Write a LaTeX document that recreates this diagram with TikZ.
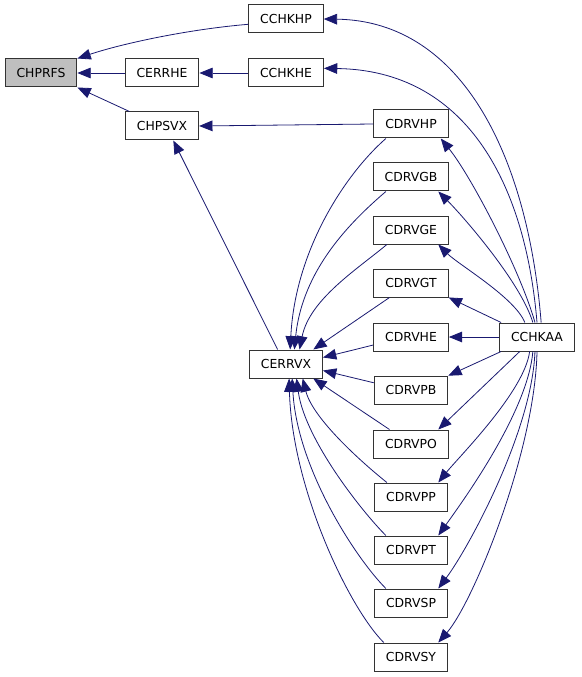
\documentclass[tikz,border=0pt]{standalone}
\usepackage{fontspec}
\setmainfont{DejaVu Sans}
\usepackage{tikz}
\usetikzlibrary{arrows.meta}
\definecolor{edgeblue}{RGB}{25,25,112}
\tikzset{fn/.style={draw=black!80,line width=0.75pt,fill=white,minimum height=21pt,
    inner xsep=8.6pt,inner ysep=0pt,font=\fontsize{9.3}{11}\selectfont},
  call/.style={draw=edgeblue,line width=0.6pt,-{Triangle[length=10pt,width=8pt]}}}

\begin{document}
\begin{tikzpicture}[x=0.75pt,y=-0.75pt]
\useasboundingbox (0,0) rectangle (581,677);
\node[fn,fill=black!25] (chprfs) at (41,73) {CHPRFS};
\node[fn] (cerrhe) at (162,73) {CERRHE};
\node[fn] (chpsvx) at (162,126) {CHPSVX};
\node[fn] (cchkhp) at (286,19) {CCHKHP};
\node[fn] (cchkhe) at (286,73) {CCHKHE};
\node[fn] (cerrvx) at (286,364) {CERRVX};
\node[fn] (cdrvhp) at (411,124) {CDRVHP};
\node[fn] (cdrvgb) at (411,177) {CDRVGB};
\node[fn] (cdrvge) at (411,230) {CDRVGE};
\node[fn] (cdrvgt) at (411,283) {CDRVGT};
\node[fn] (cdrvhe) at (411,337) {CDRVHE};
\node[fn] (cdrvpb) at (411,390) {CDRVPB};
\node[fn] (cdrvpo) at (411,444) {CDRVPO};
\node[fn] (cdrvpp) at (411,497) {CDRVPP};
\node[fn] (cdrvpt) at (411,550) {CDRVPT};
\node[fn] (cdrvsp) at (411,603) {CDRVSP};
\node[fn] (cdrvsy) at (411,657) {CDRVSY};
\node[fn] (cchkaa) at (537,337) {CCHKAA};
% first column
\draw[call] (cchkhp.188) .. controls +(-60,5) and +(45,-15) .. (chprfs.north east);
\draw[call] (cerrhe.west) -- (chprfs.east);
\draw[call] (chpsvx.156) -- (chprfs.south east);
\draw[call] (cchkhe.west) -- (cerrhe.east);
\draw[call] (cdrvhp.west) -- (chpsvx.east);
\draw[call] (cerrvx.120) -- (chpsvx.308);
% from cchkaa
\draw[call] (cchkaa.74) .. controls +(-13,-163) and +(140,2) .. (cchkhp.east);
\draw[call] (cchkaa.90) .. controls +(-12,-143) and +(140,2) .. (cchkhe.7);
\draw[call] (cchkaa.98) .. controls +(-15,-53) and +(30,37) .. (cdrvhp.334);
\draw[call] (cchkaa.106) .. controls +(-12,-40) and +(25,25) .. (cdrvgb.332);
\draw[call] (cchkaa.130) .. controls +(-10,-25) and +(20,20) .. (cdrvge.332);
\draw[call] (cchkaa.158) -- (cdrvgt.339);
\draw[call] (cchkaa.west) -- (cdrvhe.east);
\draw[call] (cchkaa.202) -- (cdrvpb.21);
\draw[call] (cchkaa.220) -- (cdrvpo.28);
\draw[call] (cchkaa.243) .. controls +(-5,40) and +(20,-25) .. (cdrvpp.28);
\draw[call] (cchkaa.254) .. controls +(-5,60) and +(25,-35) .. (cdrvpt.28);
\draw[call] (cchkaa.262) .. controls +(-3,80) and +(30,-40) .. (cdrvsp.28);
\draw[call] (cchkaa.270) .. controls +(-2,100) and +(35,-40) .. (cdrvsy.28);
% into cerrvx
\draw[call] (cdrvhp.210) .. controls +(-40,35) and +(5,-100) .. (cerrvx.74);
\draw[call] (cdrvgb.210) .. controls +(-35,30) and +(8,-80) .. (cerrvx.60);
\draw[call] (cdrvge.211) .. controls +(-30,25) and +(10,-50) .. (cerrvx.47);
\draw[call] (cdrvgt.214) -- (cerrvx.28);
\draw[call] (cdrvhe.192) -- (cerrvx.10);
\draw[call] (cdrvpb.169) -- (cerrvx.-10);
\draw[call] (cdrvpo.146) -- (cerrvx.-28);
\draw[call] (cdrvpp.149) .. controls +(-25,-20) and +(10,40) .. (cerrvx.-41);
\draw[call] (cdrvpt.150) .. controls +(-25,-25) and +(8,60) .. (cerrvx.-54);
\draw[call] (cdrvsp.150) .. controls +(-30,-30) and +(5,90) .. (cerrvx.-67);
\draw[call] (cdrvsy.152) .. controls +(-35,-35) and +(3,110) .. (cerrvx.-78);
\end{tikzpicture}
\end{document}
